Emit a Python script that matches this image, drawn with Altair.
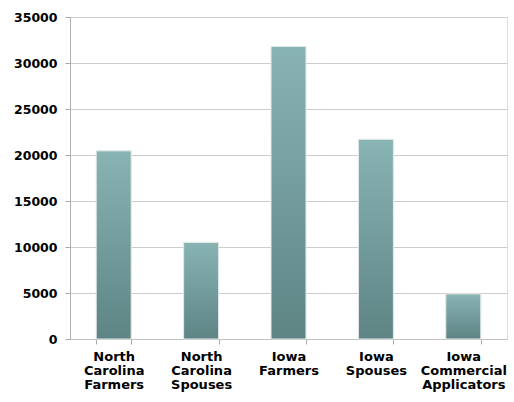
import altair as alt
import pandas as pd

categories = [
    "North\nCarolina\nFarmers",
    "North\nCarolina\nSpouses",
    "Iowa\nFarmers",
    "Iowa\nSpouses",
    "Iowa\nCommercial\nApplicators",
]
values = [20450, 10500, 31800, 21700, 4900]
y_ticks = [0, 5000, 10000, 15000, 20000, 25000, 30000, 35000]

df = pd.DataFrame({"group": categories, "count": values})

FONT = "DejaVu Sans"

grad = alt.LinearGradient(
    gradient="linear",
    x1=0, y1=0, x2=0, y2=1,
    stops=[
        alt.GradientStop(color="#89b4b4", offset=0),
        alt.GradientStop(color="#5e8484", offset=1),
    ],
)

chart = (
    alt.Chart(df)
    .mark_bar(color=grad, stroke="#e2e8e8", strokeWidth=1)
    .encode(
        x=alt.X(
            "group:N",
            sort=categories,
            scale=alt.Scale(paddingInner=0.6, paddingOuter=0.3),
            axis=alt.Axis(
                title=None,
                labelAngle=0,
                labelExpr="split(datum.label, '\\n')",
                labelFont=FONT,
                labelFontWeight="bold",
                labelFontSize=13,
                labelLineHeight=14,
                labelColor="#000000",
                labelBaseline="top",
                labelPadding=6,
                tickBand="extent",
                tickSize=5,
                tickColor="#aaaaaa",
                domainColor="#c0c0c0",
                grid=False,
            ),
        ),
        y=alt.Y(
            "count:Q",
            scale=alt.Scale(domain=[0, 35000], nice=False),
            axis=alt.Axis(
                title=None,
                values=y_ticks,
                format="d",
                labelFont=FONT,
                labelFontWeight="bold",
                labelFontSize=12.5,
                labelColor="#000000",
                labelPadding=8,
                tickSize=5,
                tickColor="#aaaaaa",
                domainColor="#b0b0b0",
                gridColor="#cccccc",
                gridWidth=1,
            ),
        ),
    )
    .properties(
        width=437,
        height=322,
        padding={"left": 70, "top": 17, "right": 7, "bottom": 63},
        autosize=alt.AutoSizeParams(type="none"),
    )
    .configure_view(stroke=None)
    .configure(background="#ffffff")
)

chart.save("out.html", embed_options={"renderer": "svg", "actions": False})
